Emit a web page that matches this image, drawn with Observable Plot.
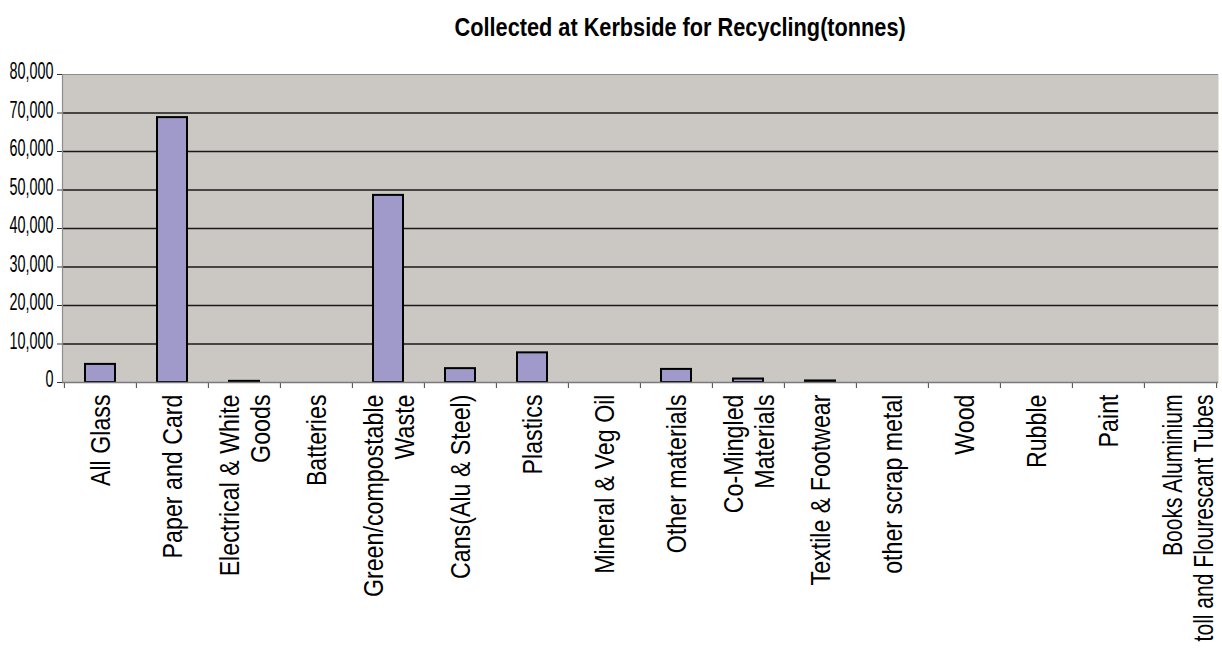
<!DOCTYPE html>
<html><head><meta charset="utf-8">
<script src="https://cdn.jsdelivr.net/npm/d3@7"></script>
<script src="https://cdn.jsdelivr.net/npm/@observablehq/plot@0.6"></script>
<style>
body{margin:0;background:#fff;overflow:hidden}
#title{height:42px;padding-top:13px;width:1084px;margin-left:138px;text-align:center;font:bold 26px/28px "Liberation Sans",sans-serif;color:#000}
#title span{display:inline-block;transform:scaleX(0.835);transform-origin:50% 50%;white-space:nowrap}
</style></head><body>
<div id="title"><span>Collected at Kerbside for Recycling(tonnes)</span></div>
<div id="chart"></div>
<script>
const categories = [
  "All Glass",
  "Paper and Card",
  "Electrical & White\nGoods",
  "Batteries",
  "Green/compostable\nWaste",
  "Cans(Alu & Steel)",
  "Plastics",
  "Mineral & Veg Oil",
  "Other materials",
  "Co-Mingled\nMaterials",
  "Textile & Footwear",
  "other scrap metal",
  "Wood",
  "Rubble",
  "Paint",
  "Books Aluminium\ntoll and Flourescant Tubes"
];
const tonnes = [4700, 68800, 300, 0, 48600, 3600, 7700, 0, 3400, 900, 400, 0, 0, 0, 0, 0];
const yTicks = [0, 10000, 20000, 30000, 40000, 50000, 60000, 70000, 80000];

const data = categories.map((c, i) => ({category: c, value: tonnes[i]}));
const W = 1222, H = 596, mL = 62, mR = 4;
const step = (W - mL - mR) / categories.length;
const last = categories[categories.length - 1];
const labelStyle = {
  frameAnchor: "bottom", dy: 12, rotate: -90, textAnchor: "end", lineAnchor: "middle",
  fontSize: 27, lineHeight: 1.15, fill: "#000"
};

const plot = Plot.plot({
  width: W, height: H,
  marginTop: 19, marginBottom: 269, marginLeft: mL, marginRight: mR,
  style: {fontFamily: "Liberation Sans, sans-serif", background: "white", color: "#000"},
  x: {domain: categories, paddingInner: 0.58, paddingOuter: 0.29, axis: null, label: null},
  y: {domain: [0, 80000], axis: null, label: null},
  marks: [
    Plot.frame({fill: "#cbc7c3", stroke: null}),
    Plot.gridY(yTicks.filter(v => v > 0 && v < 80000), {stroke: "#1a1a1a", strokeOpacity: 1, strokeWidth: 1.3}),
    Plot.ruleY([80000], {stroke: "#8c8c8c", strokeWidth: 1.2}),
    Plot.frame({anchor: "left", stroke: "#8c8c8c", strokeWidth: 1.2}),
    Plot.axisY(yTicks, {tickSize: 5, tickFormat: () => "", stroke: "#333", label: null}),
    Plot.axisY(yTicks, {tickSize: 0, tickPadding: 9, dy: -3, tickFormat: d3.format(","), fontSize: 24, fill: "#000", label: null}),
    Plot.axisX(categories, {tickSize: 6, tickFormat: () => "", dx: -step / 2, stroke: "#444", label: null}),
    Plot.axisX([last], {tickSize: 6, tickFormat: () => "", dx: step / 2, stroke: "#444", label: null}),
    Plot.barY(data.filter(d => d.value > 0), {x: "category", y: "value", fill: "#a09acb", stroke: "#000", strokeWidth: 2}),
    Plot.ruleY([0], {stroke: "#7a7a7a", strokeWidth: 1.5}),
    Plot.text(categories.slice(0, -1), {x: d => d, text: d => d, ...labelStyle}),
    Plot.text([last], {x: d => d, text: d => d, ...labelStyle, dx: 7})
  ]
});

// condense glyphs along the text direction (the reference uses a condensed face)
function condense(texts, sx) {
  texts.forEach(t => {
    let tr = t.getAttribute("transform");
    if (!tr) {
      const x = t.getAttribute("x") || 0, y = t.getAttribute("y") || 0;
      t.removeAttribute("x"); t.removeAttribute("y");
      tr = `translate(${x},${y})`;
    }
    t.setAttribute("transform", tr + ` scale(${sx},1)`);
  });
}
condense(plot.querySelectorAll('g[aria-label="y-axis tick label"] text'), 0.6);
const labelGroups = plot.querySelectorAll('g[aria-label="text"]');
condense(labelGroups[0].querySelectorAll("text"), 0.86);
condense(labelGroups[1].querySelectorAll("text"), 0.78);
document.getElementById("chart").appendChild(plot);
</script>
</body></html>
